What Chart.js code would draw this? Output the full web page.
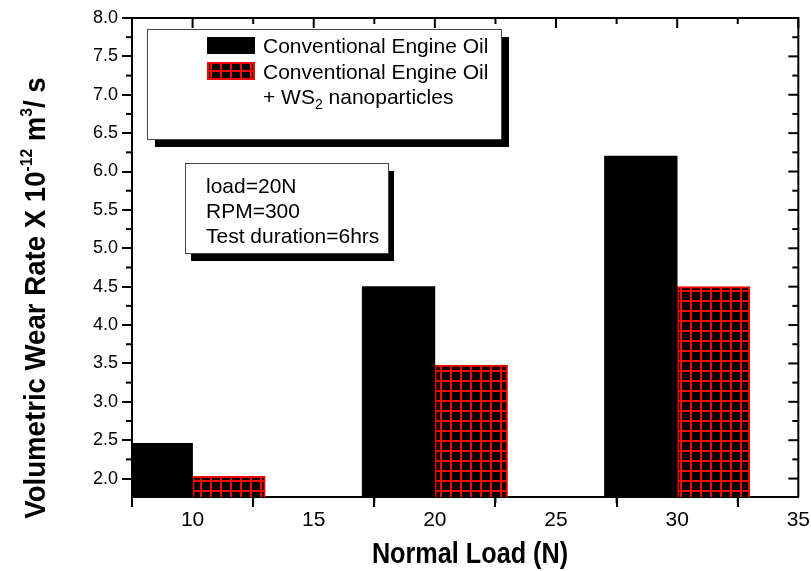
<!DOCTYPE html>
<html>
<head>
<meta charset="utf-8">
<script src="https://cdn.jsdelivr.net/npm/chart.js@4.4.1/dist/chart.umd.min.js"></script>
<style>
  html, body { margin: 0; padding: 0; background: #fff; }
  canvas { display: block; }
</style>
</head>
<body>
<canvas id="wearChart" width="811" height="571"></canvas>
<script>
// values
const loads = [10, 20, 30];
const conventionalOil = [2.46, 4.5, 6.2];
const ws2Oil = [2.03, 3.48, 4.5];
const xTicks = [10, 15, 20, 25, 30, 35];
const xMinorTicks = [7.5, 12.5, 17.5, 22.5, 27.5, 32.5];
const yTicks = [2.0, 2.5, 3.0, 3.5, 4.0, 4.5, 5.0, 5.5, 6.0, 6.5, 7.0, 7.5, 8.0];
const yMinorTicks = [2.25, 2.75, 3.25, 3.75, 4.25, 4.75, 5.25, 5.75, 6.25, 6.75, 7.25, 7.75];
const seriesNames = ['Conventional Engine Oil', 'Conventional Engine Oil'];
const conditionLines = ['load=20N', 'RPM=300', 'Test duration=6hrs'];

const FONT = "'Liberation Sans', Arial, sans-serif";

// black cells with red grid lines, like the hatched bars
function makeGridPattern() {
  const c = document.createElement('canvas');
  c.width = 10;
  c.height = 10;
  const g = c.getContext('2d');
  g.fillStyle = '#000';
  g.fillRect(0, 0, 10, 10);
  g.fillStyle = '#ff0000';
  g.fillRect(0, 0, 2, 10);
  g.fillRect(0, 0, 10, 2);
  return g.createPattern(c, 'repeat');
}
const gridPattern = makeGridPattern();

function shadowBox(ctx, x, y, w, h, dx, dy) {
  ctx.fillStyle = '#000';
  ctx.fillRect(x + dx, y + dy, w, h);
  ctx.fillStyle = '#fff';
  ctx.fillRect(x, y, w, h);
  ctx.strokeStyle = '#444';
  ctx.lineWidth = 1;
  ctx.strokeRect(x + 0.5, y + 0.5, w, h);
}

// draws text pieces one after the other (for super/subscripts)
function drawPieces(ctx, pieces, x, y, bold) {
  let cx = x;
  pieces.forEach(p => {
    ctx.font = (bold ? 'bold ' : '') + p.size + 'px ' + FONT;
    ctx.fillText(p.text, cx, y + (p.dy || 0));
    cx += ctx.measureText(p.text).width;
  });
}
function piecesWidth(ctx, pieces, bold) {
  let w = 0;
  pieces.forEach(p => {
    ctx.font = (bold ? 'bold ' : '') + p.size + 'px ' + FONT;
    w += ctx.measureText(p.text).width;
  });
  return w;
}

const framePlugin = {
  id: 'frame',
  afterDatasetsDraw(chart) {
    const { ctx, chartArea: a, scales: { x, y } } = chart;
    ctx.save();
    ctx.strokeStyle = '#000';
    ctx.lineWidth = 2;
    ctx.beginPath();
    ctx.moveTo(a.left, a.top);
    ctx.lineTo(a.right, a.top);
    ctx.lineTo(a.right, a.bottom);
    ctx.stroke();

    const tick = (x1, y1, x2, y2) => {
      ctx.beginPath();
      ctx.moveTo(x1, y1);
      ctx.lineTo(x2, y2);
      ctx.stroke();
    };
    xTicks.forEach(v => {
      const px = x.getPixelForValue(v);
      tick(px, a.top, px, a.top + 10);
    });
    xMinorTicks.forEach(v => {
      const px = x.getPixelForValue(v);
      tick(px, a.bottom, px, a.bottom + 6);
      tick(px, a.top, px, a.top + 6);
    });
    yTicks.forEach(v => {
      const py = y.getPixelForValue(v);
      tick(a.right - 10, py, a.right, py);
    });
    yMinorTicks.forEach(v => {
      const py = y.getPixelForValue(v);
      tick(a.left - 6, py, a.left, py);
      tick(a.right - 6, py, a.right, py);
    });

    // legend box
    shadowBox(ctx, 147, 29, 354, 110, 8, 8);
    ctx.fillStyle = '#000';
    ctx.fillRect(207, 37, 48, 17);
    ctx.fillStyle = gridPattern;
    ctx.fillRect(207, 62, 48, 18);
    ctx.strokeStyle = '#ff0000';
    ctx.lineWidth = 2;
    ctx.strokeRect(208, 63, 46, 16);
    ctx.fillStyle = '#000';
    ctx.textBaseline = 'alphabetic';
    ctx.textAlign = 'left';
    ctx.font = '21px ' + FONT;
    ctx.fillText(seriesNames[0], 263, 53);
    ctx.fillText(seriesNames[1], 263, 79);
    drawPieces(ctx, [
      { text: '+ WS', size: 21 },
      { text: '2', size: 14, dy: 5 },
      { text: ' nanoparticles', size: 21 }
    ], 263, 104, false);

    // test conditions box
    shadowBox(ctx, 185, 163, 203, 90, 6, 8);
    ctx.fillStyle = '#000';
    ctx.font = '21px ' + FONT;
    conditionLines.forEach((line, i) => {
      ctx.fillText(line, 206, 193 + i * 25);
    });

    // x axis title
    ctx.save();
    ctx.translate(470, 563);
    ctx.scale(0.87, 1);
    ctx.font = 'bold 29px ' + FONT;
    ctx.textAlign = 'center';
    ctx.fillText('Normal Load (N)', 0, 0);
    ctx.restore();

    // y axis title with superscripts
    const yTitle = [
      { text: 'Volumetric Wear Rate X 10', size: 30 },
      { text: '-12', size: 17, dy: -13 },
      { text: ' m', size: 30 },
      { text: '3', size: 17, dy: -13 },
      { text: '/ s', size: 30 }
    ];
    ctx.save();
    ctx.translate(45, 298);
    ctx.rotate(-Math.PI / 2);
    ctx.scale(0.92, 1);
    ctx.textAlign = 'left';
    const w = piecesWidth(ctx, yTitle, true);
    drawPieces(ctx, yTitle, -w / 2, 0, true);
    ctx.restore();

    ctx.restore();
  }
};

const axisGrid = { display: true, drawOnChartArea: false, drawTicks: true, tickLength: 10, color: '#000', lineWidth: 2 };
const axisBorder = { display: true, color: '#000', width: 2 };

new Chart(document.getElementById('wearChart'), {
  type: 'bar',
  data: {
    datasets: [
      {
        label: seriesNames[0],
        data: loads.map((v, i) => ({ x: v - 1.5, y: conventionalOil[i] })),
        backgroundColor: '#000',
        borderColor: '#000',
        borderWidth: 0,
        grouped: false,
        barPercentage: 1,
        categoryPercentage: 1
      },
      {
        label: seriesNames[1] + ' + WS2 nanoparticles',
        data: loads.map((v, i) => ({ x: v + 1.5, y: ws2Oil[i] })),
        backgroundColor: gridPattern,
        borderColor: '#ff0000',
        borderWidth: 2,
        borderSkipped: false,
        grouped: false,
        barPercentage: 1,
        categoryPercentage: 1
      }
    ]
  },
  options: {
    responsive: false,
    animation: false,
    devicePixelRatio: 1,
    layout: { padding: { top: 18, right: 11, left: 0, bottom: 0 } },
    plugins: {
      legend: { display: false },
      tooltip: { enabled: false }
    },
    scales: {
      x: {
        type: 'linear',
        min: 7.5,
        max: 35,
        offset: false,
        afterBuildTicks: s => { s.ticks = xTicks.map(v => ({ value: v })); },
        afterFit: s => { s.height = 74; },
        grid: axisGrid,
        border: axisBorder,
        ticks: {
          color: '#000',
          font: { family: FONT, size: 21 },
          padding: 1,
          maxRotation: 0,
          minRotation: 0,
          autoSkip: false
        }
      },
      y: {
        type: 'linear',
        min: 1.76,
        max: 8,
        afterBuildTicks: s => { s.ticks = yTicks.map(v => ({ value: v })); },
        afterFit: s => { s.width = 132; },
        grid: axisGrid,
        border: axisBorder,
        ticks: {
          color: '#000',
          font: { family: FONT, size: 18 },
          padding: 4,
          autoSkip: false,
          callback: v => Number(v).toFixed(1)
        }
      }
    }
  },
  plugins: [framePlugin]
});
</script>
</body>
</html>
